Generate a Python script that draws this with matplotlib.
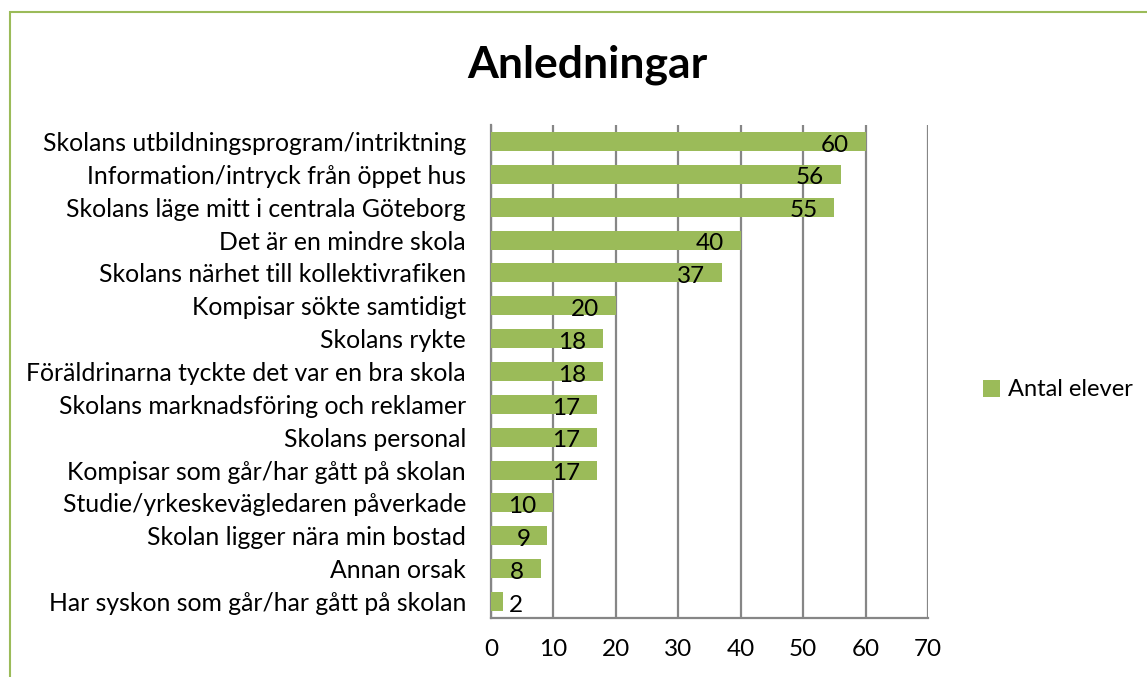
import matplotlib.pyplot as plt
from matplotlib.patches import Rectangle

categories = [
    "Skolans utbildningsprogram/intriktning",
    "Information/intryck från öppet hus",
    "Skolans läge mitt i centrala Göteborg",
    "Det är en mindre skola",
    "Skolans närhet till kollektivrafiken",
    "Kompisar sökte samtidigt",
    "Skolans rykte",
    "Föräldrinarna tyckte det var en bra skola",
    "Skolans marknadsföring och reklamer",
    "Skolans personal",
    "Kompisar som går/har gått på skolan",
    "Studie/yrkeskevägledaren påverkade",
    "Skolan ligger nära min bostad",
    "Annan orsak",
    "Har syskon som går/har gått på skolan",
]
values = [60, 56, 55, 40, 37, 20, 18, 18, 17, 17, 17, 10, 9, 8, 2]
xticks = [0, 10, 20, 30, 40, 50, 60, 70]

green = "#9BBB59"
grid = "#868686"
plt.rcParams["font.family"] = ["Lato", "DejaVu Sans"]

fig = plt.figure(figsize=(11.47, 6.77), dpi=100)
ax = fig.add_axes([491 / 1147, 1 - 618 / 677, 437 / 1147, 493 / 677])

pos = list(range(len(categories)))[::-1]
ax.barh(pos, values, height=0.58, color=green, label="Antal elever", zorder=3)

for y, v in zip(pos, values):
    if v >= 5:
        ax.text(v - 2.7, y - 0.05, str(v), ha="right", va="center_baseline", fontsize=17.5, zorder=4)
    else:
        ax.text(v + 0.8, y - 0.05, str(v), ha="left", va="center_baseline", fontsize=17.5, zorder=4)

ax.set_xlim(0, 70)
ax.set_ylim(-0.5, len(categories) - 0.5)
ax.set_xticks(xticks)
ax.set_yticks(pos)
ax.set_yticklabels(categories)
ax.tick_params(axis="x", length=0, pad=15, labelsize=17.5)
ax.tick_params(axis="y", length=0, pad=18, labelsize=17.8)
ax.grid(axis="x", color=grid, linewidth=1.6, zorder=0)
for s in ["top", "right"]:
    ax.spines[s].set_visible(False)
for s in ["left", "bottom"]:
    ax.spines[s].set_color(grid)
    ax.spines[s].set_linewidth(1.6)

fig.text(587 / 1147, 1 - 65 / 677, "Anledningar", ha="center", va="center",
         fontsize=32, fontweight="bold")

fig.legend(loc="center left", bbox_to_anchor=(983 / 1147, 1 - 390 / 677),
           frameon=False, fontsize=17, handlelength=0.7, handleheight=0.7,
           handletextpad=0.35, borderpad=0, borderaxespad=0)

fig.patches.append(Rectangle((10 / 1147, -0.1), 1.2, 1 - 12 / 677 + 0.1,
                             transform=fig.transFigure, fill=False,
                             edgecolor=green, linewidth=1.5))

plt.savefig("out.png", dpi=100)
